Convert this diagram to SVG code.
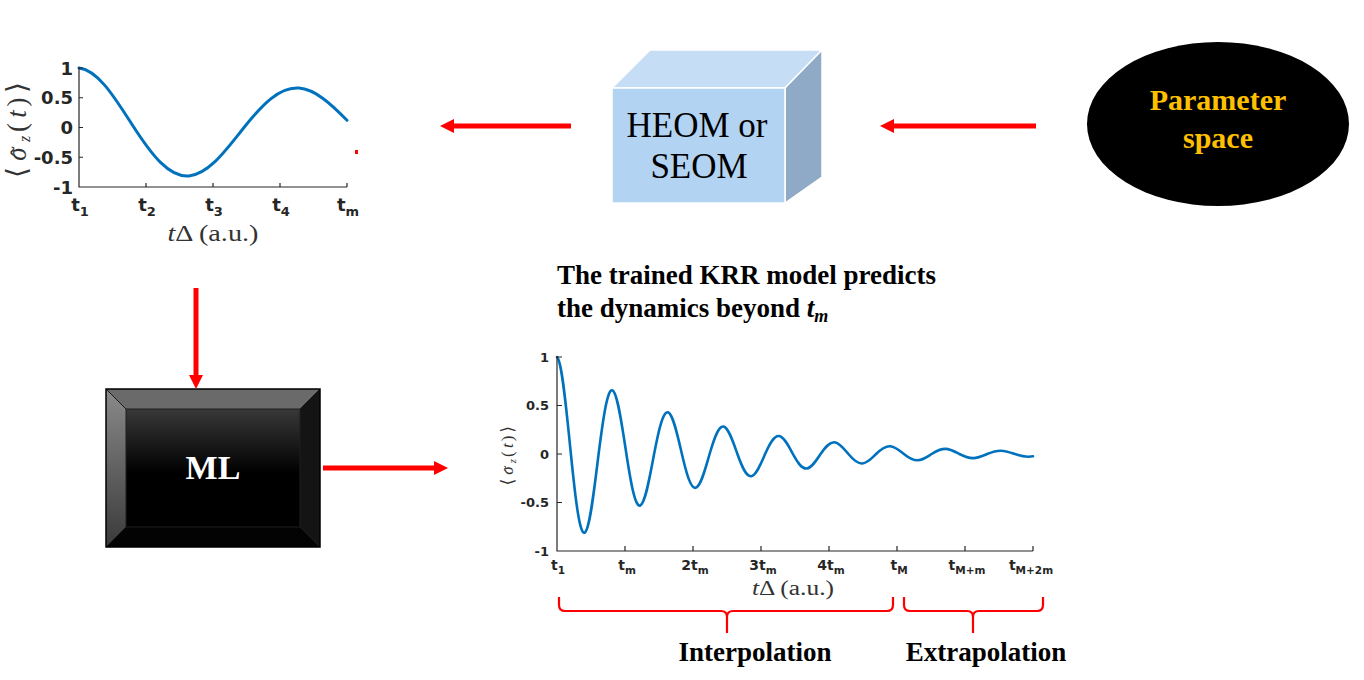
<svg xmlns="http://www.w3.org/2000/svg" width="1364" height="680" viewBox="0 0 1364 680">
<style>
.ax{stroke:#262626;stroke-width:1.2;fill:none}
.tk{font-family:"DejaVu Sans","Liberation Sans",sans-serif;font-weight:bold;fill:#262626}
.curve{fill:none;stroke:#0072BD;stroke-linejoin:round;stroke-linecap:round}
.arrow{stroke:#FF0000;stroke-width:5;fill:none}
.brace{fill:none;stroke:#FF0000;stroke-width:2.2;stroke-linejoin:round}
.lbl{font-family:"Liberation Serif","Times New Roman",serif;font-weight:bold}
.math{font-family:"Liberation Serif","DejaVu Serif",serif;fill:#333333}
.it{font-style:italic}
</style>
<defs>
<marker id="ah" markerUnits="userSpaceOnUse" markerWidth="15" markerHeight="15" refX="0" refY="7" orient="auto">
<path d="M0,0 L14,7 L0,14 z" fill="#FF0000"/>
</marker>
<linearGradient id="mlFace" x1="0" y1="0" x2="0" y2="1">
<stop offset="0" stop-color="#383838"/>
<stop offset="0.55" stop-color="#000000"/>
<stop offset="1" stop-color="#000000"/>
</linearGradient>
<linearGradient id="mlLeft" x1="0" y1="0" x2="0" y2="1">
<stop offset="0" stop-color="#8a8a8a"/>
<stop offset="1" stop-color="#3a3a3a"/>
</linearGradient>
</defs>

<g id="node-plot-top">
<path class="curve" stroke-width="3" d="M79,68 C98.9,70.2 116.1,100 134,127.5 C151.9,155 169.1,177.7 189,175.9 C208.9,174.1 226.1,149.9 244,127.5 C261.9,105.1 279.1,86.6 299,88.1 C315,89.2 331,104 347,120.3"/>
<path class="ax" d="M79,67 V187 H347"/>
<path class="ax" d="M146,187 V183 M213,187 V183 M280,187 V183 M347,187 V183 M79,68 H83 M79,97.75 H83 M79,127.5 H83 M79,157.25 H83"/>
<g class="tk" font-size="18" text-anchor="end">
<text x="73" y="74.5">1</text>
<text x="73" y="104">0.5</text>
<text x="73" y="134">0</text>
<text x="73" y="164">-0.5</text>
<text x="73" y="193.5">-1</text>
</g>
<g class="tk" font-size="18" text-anchor="middle">
<text x="80" y="211">t<tspan font-size="13" dy="5">1</tspan></text>
<text x="147" y="211">t<tspan font-size="13" dy="5">2</tspan></text>
<text x="214" y="211">t<tspan font-size="13" dy="5">3</tspan></text>
<text x="281" y="211">t<tspan font-size="13" dy="5">4</tspan></text>
<text x="348" y="211">t<tspan font-size="13" dy="5">m</tspan></text>
</g>
<text class="math" x="213" y="241" font-size="23" text-anchor="middle" textLength="91" lengthAdjust="spacingAndGlyphs"><tspan class="it">t</tspan>Δ (a.u.)</text>
<g class="math" transform="translate(26,129) rotate(-90)" text-anchor="middle">
<text x="-43.5" y="0" font-size="28">⟨</text>
<text class="it" x="-25" y="0" font-size="27">σ</text>
<text x="-23.5" y="1" font-size="24">ˆ</text>
<text class="it" x="-10" y="4" font-size="16">z</text>
<text x="1.5" y="0" font-size="27">(</text>
<text class="it" x="15" y="0" font-size="27">t</text>
<text x="27" y="0" font-size="27">)</text>
<text x="41.5" y="0" font-size="28">⟩</text>
</g>
<rect x="355" y="150" width="3" height="4" fill="#FF0000"/>
</g>

<g id="node-heom">
<polygon points="612,88 650,50 822,50 785,88" fill="#C5DEF6" stroke="#FFFFFF" stroke-width="1.5"/>
<polygon points="785,88 822,50 822,177 785,203" fill="#8EAAC6" stroke="#FFFFFF" stroke-width="1.5"/>
<rect x="612" y="88" width="173" height="115" fill="#B3D3F3" stroke="#FFFFFF" stroke-width="1.5"/>
<g font-family="'Liberation Serif','Times New Roman',serif" font-size="35" text-anchor="middle" fill="#000000">
<text x="697" y="137">HEOM or</text>
<text x="699" y="178">SEOM</text>
</g>
</g>

<g id="node-param">
<ellipse cx="1218" cy="124" rx="131" ry="82" fill="#000000"/>
<g class="lbl" font-size="30" text-anchor="middle" fill="#FFC000">
<text x="1218" y="110">Parameter</text>
<text x="1218" y="148">space</text>
</g>
</g>

<g id="node-ml">
<polygon points="106,389 320,389 300,409 126,409" fill="#6a6a6a"/>
<polygon points="106,389 126,409 126,527 106,547" fill="url(#mlLeft)"/>
<polygon points="320,389 320,547 300,527 300,409" fill="#141414"/>
<polygon points="106,547 320,547 300,527 126,527" fill="#030303"/>
<rect x="126" y="409" width="174" height="118" fill="url(#mlFace)" stroke="#1e1e1e" stroke-width="1"/>
<path d="M106,389 L126,409 M320,389 L300,409 M106,547 L126,527 M320,547 L300,527" stroke="#1a1a1a" stroke-width="1"/>
<rect x="106" y="389" width="214" height="158" fill="none" stroke="#000000" stroke-width="1.5"/>
<text class="lbl" x="213" y="479" font-size="34" text-anchor="middle" fill="#FFFFFF">ML</text>
</g>

<g id="node-title" class="lbl" font-size="27" fill="#000000">
<text x="557" y="284">The trained KRR model predicts</text>
<text x="557" y="317">the dynamics beyond <tspan class="it">t</tspan><tspan class="it" font-size="18" dy="5">m</tspan></text>
</g>

<g id="node-plot-bottom">
<path class="curve" stroke-width="2.6" d="M557,357 C562.0,360.7 566.3,409.2 570.9,454 C575.4,498.8 579.7,535.6 584.75,532.6 C589.8,529.6 594.1,490.3 598.6,454 C603.2,417.8 607.5,388.0 612.5,390.4 C617.5,392.8 621.9,424.6 626.4,454 C630.9,483.4 635.2,507.5 640.25,505.5 C645.3,503.6 649.6,477.8 654.1,454 C658.7,430.2 663.0,410.7 668,412.3 C673.0,413.9 677.4,434.7 681.9,454 C686.4,473.3 690.7,489.1 695.75,487.8 C700.8,486.5 705.1,469.6 709.6,454 C714.2,438.4 718.5,425.6 723.5,426.6 C728.5,427.7 732.9,441.4 737.4,454 C741.9,466.6 746.2,477.0 751.25,476.2 C756.3,475.3 760.6,464.2 765.1,454 C769.7,443.8 774.0,435.4 779,436.05 C784.0,436.7 788.4,445.7 792.9,454 C797.4,462.3 801.7,469.1 806.75,468.5 C811.8,468.0 816.1,460.7 820.6,454 C825.2,447.3 829.5,441.8 834.5,442.2 C839.5,442.7 843.9,448.6 848.4,454 C852.9,459.4 857.2,463.9 862.25,463.5 C867.3,463.2 871.6,458.4 876.1,454 C880.7,449.6 885.0,446.0 890,446.3 C895.0,446.6 899.4,450.4 903.9,454 C908.4,457.6 912.7,460.5 917.75,460.3 C922.8,460.0 927.1,456.9 931.6,454 C936.2,451.1 940.5,448.7 945.5,448.9 C950.5,449.1 954.9,451.7 959.4,454 C963.9,456.3 968.2,458.3 973.25,458.1 C978.3,457.9 982.6,455.9 987.1,454 C991.7,452.1 996.0,450.6 1001,450.7 C1006.0,450.8 1010.4,452.5 1014.9,454 C1019.4,455.5 1023.7,456.8 1028.75,456.7 L1033,456.3"/>
<path class="ax" d="M557,356 V551 H1033"/>
<path class="ax" d="M625,551 V546 M693,551 V546 M761,551 V546 M829,551 V546 M897,551 V546 M965,551 V546 M1033,551 V546 M557,357 H562 M557,405.5 H562 M557,454 H562 M557,502.5 H562"/>
<g class="tk" font-size="13" text-anchor="end">
<text x="549" y="361.5">1</text>
<text x="549" y="410">0.5</text>
<text x="549" y="458.5">0</text>
<text x="549" y="507">-0.5</text>
<text x="549" y="555.5">-1</text>
</g>
<g class="tk" font-size="14" text-anchor="middle">
<text x="558" y="570">t<tspan font-size="10.5" dy="4">1</tspan></text>
<text x="627" y="570">t<tspan font-size="10.5" dy="4">m</tspan></text>
<text x="695" y="570">2t<tspan font-size="10.5" dy="4">m</tspan></text>
<text x="763" y="570">3t<tspan font-size="10.5" dy="4">m</tspan></text>
<text x="831" y="570">4t<tspan font-size="10.5" dy="4">m</tspan></text>
<text x="899" y="570">t<tspan font-size="10.5" dy="4">M</tspan></text>
<text x="967" y="570">t<tspan font-size="10.5" dy="4">M+m</tspan></text>
<text x="1031" y="570">t<tspan font-size="10.5" dy="4">M+2m</tspan></text>
</g>
<text class="math" x="793" y="595" font-size="20" text-anchor="middle" textLength="82" lengthAdjust="spacingAndGlyphs"><tspan class="it">t</tspan>Δ (a.u.)</text>
<g class="math" transform="translate(513,455) rotate(-90)" text-anchor="middle">
<text x="-27" y="0" font-size="17.5">⟨</text>
<text class="it" x="-15.5" y="0" font-size="17">σ</text>
<text x="-14.5" y="0.5" font-size="15">ˆ</text>
<text class="it" x="-6.2" y="2.5" font-size="10.5">z</text>
<text x="0.9" y="0" font-size="17">(</text>
<text class="it" x="9.3" y="0" font-size="17">t</text>
<text x="16.7" y="0" font-size="17">)</text>
<text x="25.7" y="0" font-size="17.5">⟩</text>
</g>
</g>

<g id="node-interp">
<path class="brace" d="M559,597 V605 Q559,611 565,611 H721 Q727,611 727,617 V633 M727,617 Q727,611 733,611 H887 Q893,611 893,605 V597"/>
<text class="lbl" x="755" y="661" font-size="27" text-anchor="middle" fill="#000000">Interpolation</text>
</g>

<g id="node-extrap">
<path class="brace" d="M904,597 V605 Q904,611 910,611 H967 Q973,611 973,617 V633 M973,617 Q973,611 979,611 H1037 Q1043,611 1043,605 V597"/>
<text class="lbl" x="986" y="661" font-size="27" text-anchor="middle" fill="#000000">Extrapolation</text>
</g>

<g id="connectors">
<line class="arrow" x1="571" y1="126" x2="454" y2="126" marker-end="url(#ah)"/>
<line class="arrow" x1="1036" y1="126" x2="894" y2="126" marker-end="url(#ah)"/>
<line class="arrow" x1="196" y1="288" x2="196" y2="375" marker-end="url(#ah)"/>
<line class="arrow" x1="323" y1="468" x2="434" y2="468" marker-end="url(#ah)"/>
</g>
</svg>
